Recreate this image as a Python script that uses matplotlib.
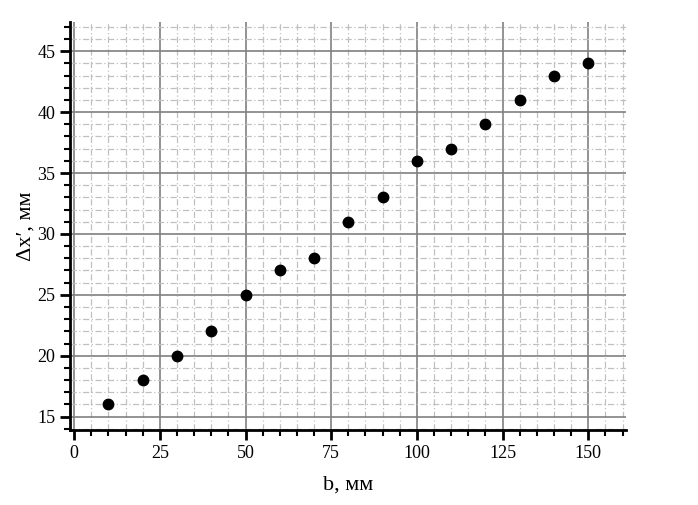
import matplotlib
matplotlib.use("Agg")
import matplotlib.pyplot as plt
from matplotlib.ticker import MultipleLocator

# measured data
b = [10, 20, 30, 40, 50, 60, 70, 80, 90, 100, 110, 120, 130, 140, 150]
dx = [16, 18, 20, 22, 25, 27, 28, 31, 33, 36, 37, 39, 41, 43, 44]

plt.rcParams['font.family'] = ['Liberation Serif', 'DejaVu Serif']

fig = plt.figure(figsize=(6.98, 5.05), dpi=100)
ax = fig.add_axes([0.1003, 0.1485, 0.7965, 0.8079])

ax.plot(b, dx, 'o', color='black', markersize=7.5, zorder=3)

ax.set_xlim(-1.2, 161)
ax.set_ylim(13.9, 47.4)

ax.xaxis.set_major_locator(MultipleLocator(25))
ax.xaxis.set_minor_locator(MultipleLocator(5))
ax.yaxis.set_major_locator(MultipleLocator(5))
ax.yaxis.set_minor_locator(MultipleLocator(1))

ax.grid(which='major', color='#808080', linestyle='-', linewidth=1.2)
ax.grid(which='minor', color='#c0c0c0', linestyle=(0, (5, 2, 1, 2)), linewidth=0.9)
ax.set_axisbelow(True)

for s in ['top', 'right']:
    ax.spines[s].set_visible(False)
for s in ['left', 'bottom']:
    ax.spines[s].set_linewidth(2)

ax.tick_params(which='major', direction='out', length=7, width=2, labelsize=13)
ax.tick_params(which='minor', direction='out', length=4, width=1.5)

ax.set_xlabel("b, мм", fontsize=16, labelpad=10)
ax.set_ylabel("\u0394x\u2032, мм", fontsize=16, labelpad=1)

fig.savefig("out.png", dpi=100)
